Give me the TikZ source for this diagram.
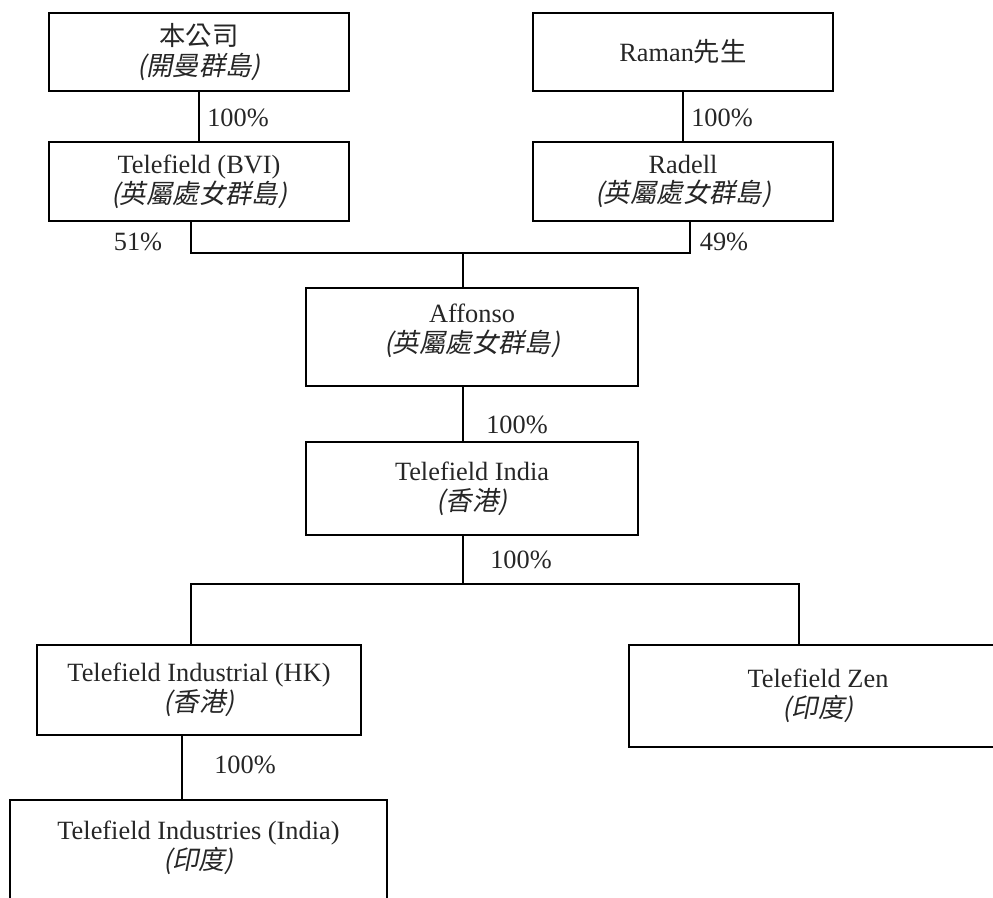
\documentclass[tikz,border=0pt]{standalone}
\usepackage{fontspec}
\setmainfont{Liberation Serif}
\newfontfamily\cjk{Noto Sans CJK TC}
\newfontfamily\cjkit[FakeSlant=0.2]{Noto Sans CJK TC}
\newcommand{\domicile}[1]{{\fontsize{15}{17}\selectfont\cjkit(#1)}}

\tikzset{
  entity/.style={draw, line width=1pt, align=center, inner sep=0pt, text=black!85,
    font=\fontsize{15}{17}\selectfont},
  share/.style={inner sep=0pt, text=black!85, font=\fontsize{15}{17}\selectfont},
  link/.style={line width=1pt}
}

\begin{document}
\begin{tikzpicture}[x=0.02cm, y=-0.02cm]
\clip (0,0) rectangle (993,898);
\node [entity, minimum width=6cm, minimum height=1.56cm] (co) at (199,52) {{\cjk 本公司}\\\domicile{開曼群島}};
\node [entity, minimum width=6cm, minimum height=1.56cm] (raman) at (683,52) {Raman{\cjk 先生}};
\node [entity, minimum width=6cm, minimum height=1.58cm] (bvi) at (199,181.5) {Telefield (BVI)\\\domicile{英屬處女群島}};
\node [entity, minimum width=6cm, minimum height=1.58cm] (radell) at (683,181.5) {Radell\\\domicile{英屬處女群島}};
\node [entity, minimum width=6.64cm, minimum height=1.96cm, text depth=0.36cm] (aff) at (472,337) {Affonso\\\domicile{英屬處女群島}};
\node [entity, minimum width=6.64cm, minimum height=1.86cm] (india) at (472,488.5) {Telefield India\\\domicile{香港}};
\node [entity, minimum width=6.48cm, minimum height=1.8cm] (ihk) at (199,690) {Telefield Industrial (HK)\\\domicile{香港}};
\node [entity, minimum width=7.56cm, minimum height=2.04cm] (zen) at (818,696) {Telefield Zen\\\domicile{印度}};
\node [entity, minimum width=7.54cm, minimum height=2.08cm, text depth=0.28cm] (iind) at (198.5,852) {Telefield Industries (India)\\\domicile{印度}};

\node [share] (p1) at (238,118) {100\%};
\node [share] (p2) at (722,118) {100\%};
\node [share] (p3) at (138,242) {51\%};
\node [share] (p4) at (724,242) {49\%};
\node [share] (p5) at (517,425) {100\%};
\node [share] (p6) at (521,560) {100\%};
\node [share] (p7) at (245,765) {100\%};

\coordinate (tl) at (191,253);
\coordinate (tr) at (690,253);
\coordinate (tm) at (463,253);
\coordinate (bl) at (191,584);
\coordinate (br) at (799,584);
\coordinate (hk) at (182,768);

\draw [link] (co) -- (bvi);
\draw [link] (raman) -- (radell);
\draw [link] (tl |- bvi.south) -- (tl) -- (tr) -- (tr |- radell.south);
\draw [link] (tm) -- (tm |- aff.north);
\draw [link] (tm |- aff.south) -- (tm |- india.north);
\draw [link] (tm |- india.south) -- (tm |- bl);
\draw [link] (bl |- ihk.north) -- (bl) -- (br) -- (br |- zen.north);
\draw [link] (hk |- ihk.south) -- (hk |- iind.north);
\end{tikzpicture}
\end{document}
